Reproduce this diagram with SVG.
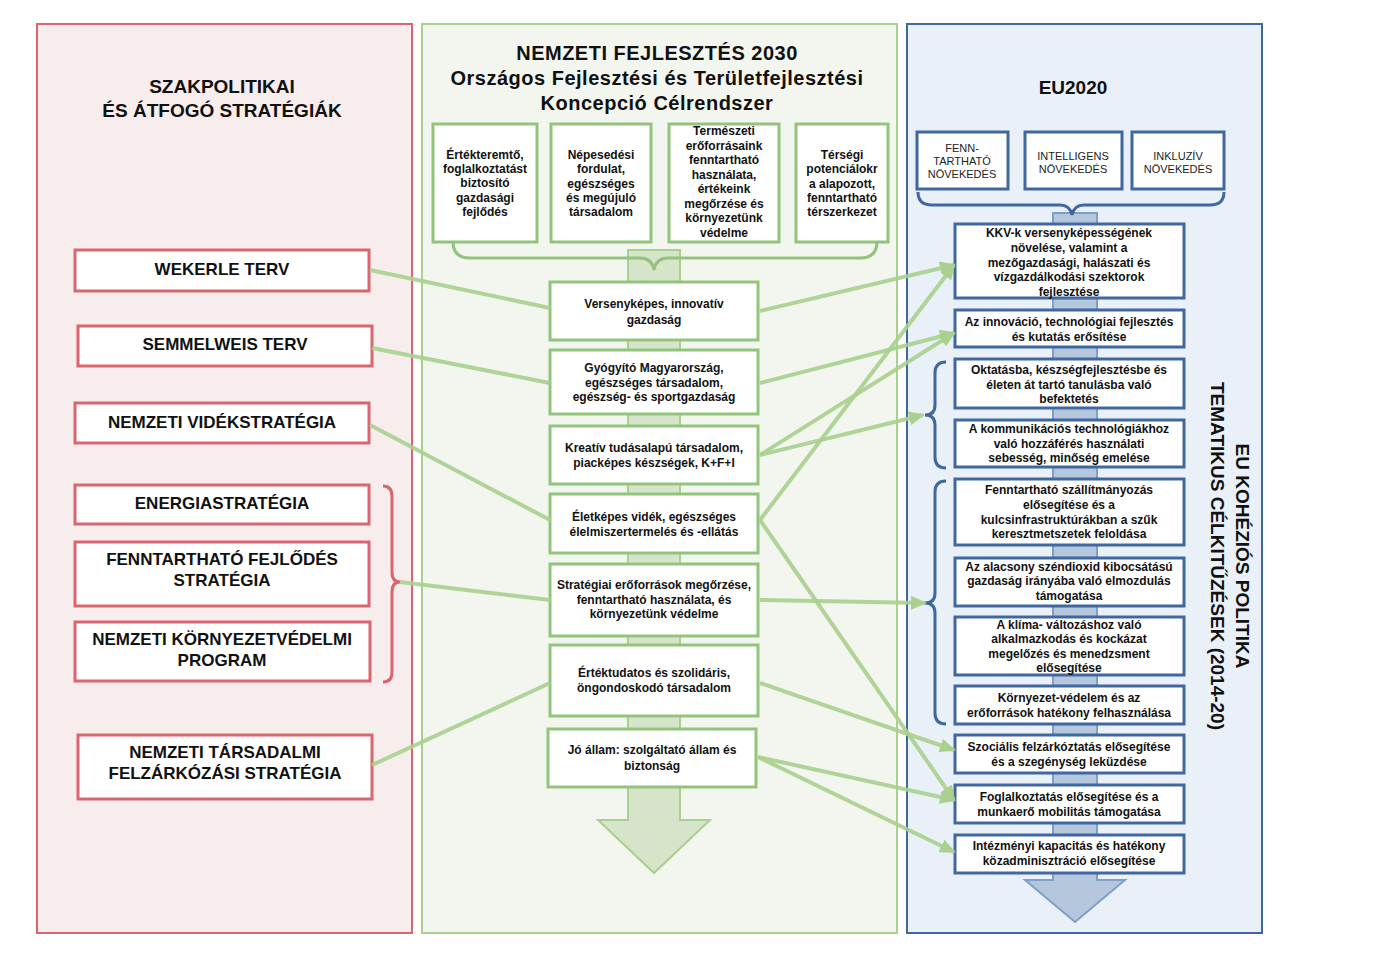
<svg xmlns="http://www.w3.org/2000/svg" width="1384" height="953" viewBox="0 0 1384 953">
<defs>
<style>
text{font-family:"Liberation Sans",Arial,sans-serif;font-weight:bold;fill:#111;text-anchor:middle}
.t1{font-size:19px}
.t2{font-size:17px}
.t3{font-size:12px}
.t4{font-size:12px}
.t5{font-size:11px;font-weight:normal;fill:#222}
.rb{fill:#fff;stroke:#d9666e;stroke-width:3}
.gb{fill:#fff;stroke:#93c47d;stroke-width:3}
.bb{fill:#fff;stroke:#3f67a0;stroke-width:3}
.con{stroke:#a9d08e;stroke-width:4;fill:none;stroke-opacity:0.9}
.arr{stroke:#a9d08e;stroke-width:4;fill:none;stroke-opacity:0.9;marker-end:url(#ah)}
</style>
<marker id="ah" markerUnits="userSpaceOnUse" markerWidth="16" markerHeight="14" refX="14" refY="7" orient="auto">
<path d="M0,0 L16,7 L0,14 Z" fill="#a9d08e"/>
</marker>
</defs>
<rect width="1384" height="953" fill="#fff"/>

<g id="panel-left">
<rect x="37" y="24" width="375" height="909" fill="#f8eded" stroke="#d9666e" stroke-width="2"/>
<text class="t1" x="222" y="93">SZAKPOLITIKAI</text>
<text class="t1" x="222" y="117">ÉS ÁTFOGÓ STRATÉGIÁK</text>
</g>
<g id="panel-middle">
<rect x="422" y="24" width="475" height="909" fill="#f3f6ef" stroke="#a9d08e" stroke-width="2"/>
<text class="t1" x="657" y="60" style="font-size:20px;letter-spacing:0.5px">NEMZETI FEJLESZTÉS 2030</text>
<text class="t1" x="657" y="85" style="font-size:20px;letter-spacing:0.5px">Országos Fejlesztési  és Területfejlesztési</text>
<text class="t1" x="657" y="110" style="font-size:20px;letter-spacing:0.5px">Koncepció Célrendszer</text>
</g>
<g id="panel-right">
<rect x="907" y="24" width="355" height="909" fill="#eaf0f7" stroke="#3f67a0" stroke-width="2"/>
<text class="t1" x="1073" y="94">EU2020</text>
<text class="t1" transform="translate(1236,556) rotate(90)">EU KOHÉZIÓS POLITIKA</text>
<text class="t1" transform="translate(1211,556) rotate(90)">TEMATIKUS CÉLKITŰZÉSEK (2014-20)</text>
</g>

<g id="middle-flow">
<path d="M628,250 H680 V820 H710 L654,873 L598,820 H628 Z" fill="#d6e5c9" stroke="#a9d08e" stroke-width="2"/>
<path d="M453,242 Q453,258 470,258 H640 Q652,258 654,270 Q656,258 668,258 H860 Q877,258 877,242" fill="none" stroke="#93c47d" stroke-width="3"/>
</g>
<g id="right-flow">
<path d="M1053,213 H1097 V880 H1125 L1075,922 L1025,880 H1053 Z" fill="#b4c7dc" stroke="#7f9fc6" stroke-width="2"/>
<path d="M918,192 Q918,205 932,205 H1060 Q1070,205 1072,215 Q1074,205 1084,205 H1210 Q1224,205 1224,192" fill="none" stroke="#3f67a0" stroke-width="3"/>
<path d="M946,362 Q935,362 935,373 V405 Q935,415 925,415 Q935,415 935,425 V457 Q935,468 946,468" fill="none" stroke="#3f67a0" stroke-width="3"/>
<path d="M946,481 Q935,481 935,492 V593 Q935,603 925,603 Q935,603 935,613 V713 Q935,724 946,724" fill="none" stroke="#3f67a0" stroke-width="3"/>
</g>
<g id="left-bracket">
<path d="M383,486 Q392,486 392,496 V572 Q392,582 400,582 Q392,582 392,592 V672 Q392,682 383,682" fill="none" stroke="#d9666e" stroke-width="3"/>
</g>

<g id="left-nodes">
<g id="wekerle"><rect class="rb" x="75" y="250" width="294" height="41"/><text class="t2" x="222" y="275">WEKERLE TERV</text></g>
<g id="semmelweis"><rect class="rb" x="78" y="326" width="294" height="40"/><text class="t2" x="225" y="350">SEMMELWEIS TERV</text></g>
<g id="videkstrategia"><rect class="rb" x="75" y="403" width="294" height="40"/><text class="t2" x="222" y="428">NEMZETI VIDÉKSTRATÉGIA</text></g>
<g id="energia"><rect class="rb" x="75" y="485" width="294" height="39"/><text class="t2" x="222" y="509">ENERGIASTRATÉGIA</text></g>
<g id="fenntarthato"><rect class="rb" x="75" y="542" width="294" height="64"/><text class="t2" x="222" y="565">FENNTARTHATÓ FEJLŐDÉS</text><text class="t2" x="222" y="586">STRATÉGIA</text></g>
<g id="kornyezetvedelmi"><rect class="rb" x="75" y="622" width="295" height="59"/><text class="t2" x="222" y="645">NEMZETI KÖRNYEZETVÉDELMI</text><text class="t2" x="222" y="666">PROGRAM</text></g>
<g id="felzarkozasi"><rect class="rb" x="78" y="735" width="294" height="64"/><text class="t2" x="225" y="758">NEMZETI TÁRSADALMI</text><text class="t2" x="225" y="779">FELZÁRKÓZÁSI STRATÉGIA</text></g>
</g>

<g id="middle-top-nodes">
<g id="mt1"><rect class="gb" x="433" y="124" width="104" height="118"/>
<text class="t3" x="485" y="159">Értékteremtő,</text><text class="t3" x="485" y="173">foglalkoztatást</text><text class="t3" x="485" y="187">biztosító</text><text class="t3" x="485" y="202">gazdasági</text><text class="t3" x="485" y="216">fejlődés</text></g>
<g id="mt2"><rect class="gb" x="551" y="124" width="100" height="118"/>
<text class="t3" x="601" y="159">Népesedési</text><text class="t3" x="601" y="173">fordulat,</text><text class="t3" x="601" y="188">egészséges</text><text class="t3" x="601" y="202">és megújuló</text><text class="t3" x="601" y="216">társadalom</text></g>
<g id="mt3"><rect class="gb" x="669" y="124" width="110" height="118"/>
<text class="t3" x="724" y="135">Természeti</text><text class="t3" x="724" y="150">erőforrásaink</text><text class="t3" x="724" y="164">fenntartható</text><text class="t3" x="724" y="179">használata,</text><text class="t3" x="724" y="193">értékeink</text><text class="t3" x="724" y="208">megőrzése és</text><text class="t3" x="724" y="222">környezetünk</text><text class="t3" x="724" y="237">védelme</text></g>
<g id="mt4"><rect class="gb" x="796" y="124" width="92" height="118"/>
<text class="t3" x="842" y="159">Térségi</text><text class="t3" x="842" y="173">potenciálokr</text><text class="t3" x="842" y="188">a alapozott,</text><text class="t3" x="842" y="202">fenntartható</text><text class="t3" x="842" y="216">térszerkezet</text></g>
</g>

<g id="middle-nodes">
<g id="m1"><rect class="gb" x="550" y="282" width="208" height="58"/><text class="t3" x="654" y="308">Versenyképes, innovatív</text><text class="t3" x="654" y="324">gazdaság</text></g>
<g id="m2"><rect class="gb" x="550" y="350" width="208" height="64"/><text class="t3" x="654" y="372">Gyógyító  Magyarország,</text><text class="t3" x="654" y="387">egészséges társadalom,</text><text class="t3" x="654" y="401">egészség- és sportgazdaság</text></g>
<g id="m3"><rect class="gb" x="550" y="426" width="208" height="58"/><text class="t3" x="654" y="452">Kreatív tudásalapú társadalom,</text><text class="t3" x="654" y="467">piacképes készségek, K+F+I</text></g>
<g id="m4"><rect class="gb" x="550" y="494" width="208" height="59"/><text class="t3" x="654" y="521">Életképes vidék, egészséges</text><text class="t3" x="654" y="536">élelmiszertermelés és -ellátás</text></g>
<g id="m5"><rect class="gb" x="550" y="564" width="208" height="72"/><text class="t3" x="654" y="589">Stratégiai erőforrások megőrzése,</text><text class="t3" x="654" y="604">fenntartható használata, és</text><text class="t3" x="654" y="618">környezetünk védelme</text></g>
<g id="m6"><rect class="gb" x="550" y="645" width="208" height="71"/><text class="t3" x="654" y="677">Értéktudatos és szolidáris,</text><text class="t3" x="654" y="692">öngondoskodó társadalom</text></g>
<g id="m7"><rect class="gb" x="548" y="729" width="208" height="58"/><text class="t3" x="652" y="754">Jó állam:  szolgáltató állam  és</text><text class="t3" x="652" y="770">biztonság</text></g>
</g>

<g id="eu2020-nodes">
<g id="e1"><rect class="bb" x="917" y="132" width="91" height="57"/><text class="t5" x="962" y="152">FENN-</text><text class="t5" x="962" y="165">TARTHATÓ</text><text class="t5" x="962" y="178">NÖVEKEDÉS</text></g>
<g id="e2"><rect class="bb" x="1025" y="132" width="97" height="57"/><text class="t5" x="1073" y="160">INTELLIGENS</text><text class="t5" x="1073" y="173">NÖVEKEDÉS</text></g>
<g id="e3"><rect class="bb" x="1132" y="132" width="92" height="57"/><text class="t5" x="1178" y="160">INKLUZÍV</text><text class="t5" x="1178" y="173">NÖVEKEDÉS</text></g>
</g>

<g id="right-nodes">
<g id="r1"><rect class="bb" x="955" y="224" width="229" height="74"/><text class="t4" x="1069" y="237">KKV-k versenyképességének</text><text class="t4" x="1069" y="252">növelése, valamint a</text><text class="t4" x="1069" y="267">mezőgazdasági, halászati és</text><text class="t4" x="1069" y="281">vízgazdálkodási szektorok</text><text class="t4" x="1069" y="296">fejlesztése</text></g>
<g id="r2"><rect class="bb" x="955" y="310" width="229" height="37"/><text class="t4" x="1069" y="326">Az innováció, technológiai fejlesztés</text><text class="t4" x="1069" y="341">és kutatás  erősítése</text></g>
<g id="r3"><rect class="bb" x="955" y="359" width="229" height="49"/><text class="t4" x="1069" y="374">Oktatásba, készségfejlesztésbe és</text><text class="t4" x="1069" y="389">életen át tartó tanulásba való</text><text class="t4" x="1069" y="403">befektetés</text></g>
<g id="r4"><rect class="bb" x="955" y="420" width="229" height="47"/><text class="t4" x="1069" y="433">A  kommunikációs  technológiákhoz</text><text class="t4" x="1069" y="448">való hozzáférés használati</text><text class="t4" x="1069" y="462">sebesség, minőség emelése</text></g>
<g id="r5"><rect class="bb" x="955" y="479" width="229" height="66"/><text class="t4" x="1069" y="494">Fenntartható szállítmányozás</text><text class="t4" x="1069" y="509">elősegítése és a</text><text class="t4" x="1069" y="524">kulcsinfrastruktúrákban a szűk</text><text class="t4" x="1069" y="538">keresztmetszetek feloldása</text></g>
<g id="r6"><rect class="bb" x="955" y="558" width="229" height="48"/><text class="t4" x="1069" y="571">Az alacsony széndioxid kibocsátású</text><text class="t4" x="1069" y="585">gazdaság irányába való elmozdulás</text><text class="t4" x="1069" y="600">támogatása</text></g>
<g id="r7"><rect class="bb" x="955" y="617" width="229" height="58"/><text class="t4" x="1069" y="629">A  klíma-  változáshoz való</text><text class="t4" x="1069" y="643">alkalmazkodás  és kockázat</text><text class="t4" x="1069" y="658">megelőzés és menedzsment</text><text class="t4" x="1069" y="672">elősegítése</text></g>
<g id="r8"><rect class="bb" x="955" y="686" width="229" height="38"/><text class="t4" x="1069" y="702">Környezet-védelem és az</text><text class="t4" x="1069" y="717">erőforrások hatékony felhasználása</text></g>
<g id="r9"><rect class="bb" x="955" y="735" width="229" height="38"/><text class="t4" x="1069" y="751">Szociális felzárkóztatás elősegítése</text><text class="t4" x="1069" y="766">és a szegénység leküzdése</text></g>
<g id="r10"><rect class="bb" x="955" y="785" width="229" height="38"/><text class="t4" x="1069" y="801">Foglalkoztatás elősegítése és a</text><text class="t4" x="1069" y="816">munkaerő mobilitás  támogatása</text></g>
<g id="r11"><rect class="bb" x="955" y="835" width="229" height="38"/><text class="t4" x="1069" y="850">Intézményi kapacitás és hatékony</text><text class="t4" x="1069" y="865">közadminisztráció elősegítése</text></g>
</g>

<g id="connectors">
<line class="con" x1="370" y1="270" x2="550" y2="308"/>
<line class="con" x1="372" y1="348" x2="550" y2="383"/>
<line class="con" x1="370" y1="425" x2="550" y2="520"/>
<line class="con" x1="400" y1="582" x2="550" y2="600"/>
<line class="con" x1="372" y1="765" x2="550" y2="683"/>
<line class="arr" x1="760" y1="311" x2="954" y2="265"/>
<line class="arr" x1="760" y1="383" x2="954" y2="333"/>
<line class="arr" x1="760" y1="455" x2="954" y2="333"/>
<line class="arr" x1="760" y1="455" x2="923" y2="415"/>
<line class="arr" x1="760" y1="520" x2="954" y2="265"/>
<line class="arr" x1="760" y1="520" x2="954" y2="800"/>
<line class="arr" x1="760" y1="600" x2="925" y2="603"/>
<line class="arr" x1="760" y1="683" x2="954" y2="750"/>
<line class="arr" x1="758" y1="757" x2="954" y2="800"/>
<line class="arr" x1="758" y1="757" x2="954" y2="852"/>
</g>
</svg>
